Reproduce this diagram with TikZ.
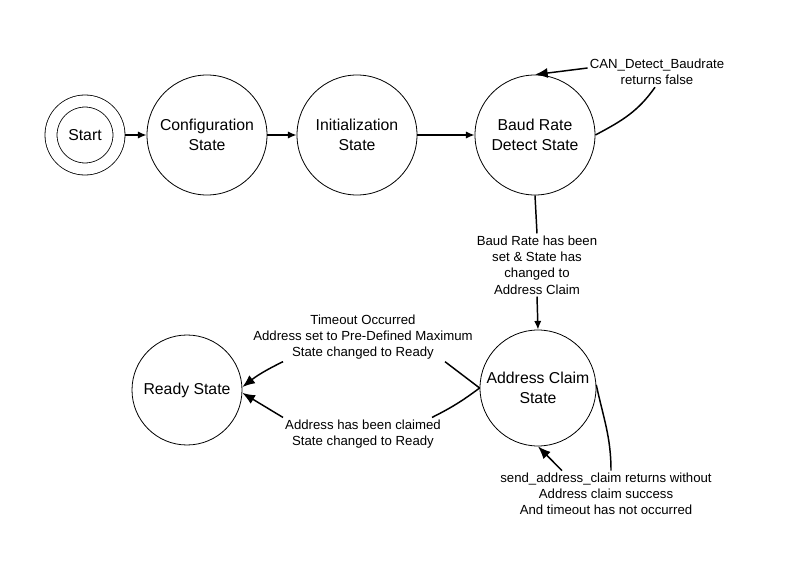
\documentclass[tikz,border=0pt]{standalone}
\usepackage{fontspec}
\setmainfont{Liberation Sans}
\usetikzlibrary{arrows.meta,calc}
\begin{document}
\begin{tikzpicture}[x=0.75pt,y=-0.75pt,
  st/.style={circle,draw,line width=0.6pt,minimum size=#1,inner sep=0pt,align=center,
    font=\fontsize{11.85}{14.6}\selectfont},
  lbl/.style={align=center,inner sep=1.5pt,font=\fontsize{9.9}{12.2}\selectfont},
  conn/.style={line width=1.1pt},
  arr/.style={conn,-{Latex[length=9.5pt,width=7.5pt]}},
  arrs/.style={conn,-{Latex[length=6.5pt,width=5.5pt]}}]
\useasboundingbox[fill=white] (0,0) rectangle (800,577);

\node[circle,draw,line width=0.6pt,double,double distance=8.4pt,minimum size=51pt,
  inner sep=0pt,outer sep=4.8pt,font=\fontsize{11.85}{14.6}\selectfont] (start) at (85,135) {Start};
\node[st=90pt] (cfg) at (207,135) {Configuration\\State};
\node[st=90pt] (init) at (357,135) {Initialization\\State};
\node[st=90pt] (baud) at (535,135) {Baud Rate\\Detect State};
\node[st=87pt] (addr) at (538,388) {Address Claim\\State};
\node[st=82.5pt] (ready) at (187,390) {Ready State};

\draw[arrs] (start) -- (cfg);
\draw[arrs] (cfg) -- (init);
\draw[arrs] (init) -- (baud);

\node[lbl] (lc) at (657,72) {CAN\_Detect\_Baudrate\\returns false};
\draw[conn] (baud.0) to[out=28,in=235] ($(lc.south)+(-2,0)$);
\draw[arr] ($(lc.west)+(0,-4)$) -- (baud.north);

\node[lbl] (lb) at (537,265) {Baud Rate has been\\set \& State has\\changed to\\Address Claim};
\draw[conn] (baud.south) -- (lb.north);
\draw[arrs] (lb.south) -- (addr.north);

\node[lbl] (lt) at (363,337) {Timeout Occurred\\Address set to Pre-Defined Maximum\\State changed to Ready};
\draw[conn] (addr.west) -- ($(lt.south)+(82,0)$);
\draw[arr] ($(lt.south)+(-80,0)$) to[bend right=6] (ready.3);

\node[lbl] (lw) at (363,434) {Address has been claimed\\State changed to Ready};
\draw[conn] (addr.west) to[bend left=5] ($(lw.north)+(69,0)$);
\draw[arr] ($(lw.north)+(-80,0)$) -- (ready.-3);

\node[lbl] (ls) at (606,494) {send\_address\_claim returns without\\Address claim success\\And timeout has not occurred};
\draw[conn] (addr.3) to[out=-78,in=90] ($(ls.north)+(5,0)$);
\draw[arr] ($(ls.north)+(-44,0)$) -- (addr.south);
\end{tikzpicture}
\end{document}
